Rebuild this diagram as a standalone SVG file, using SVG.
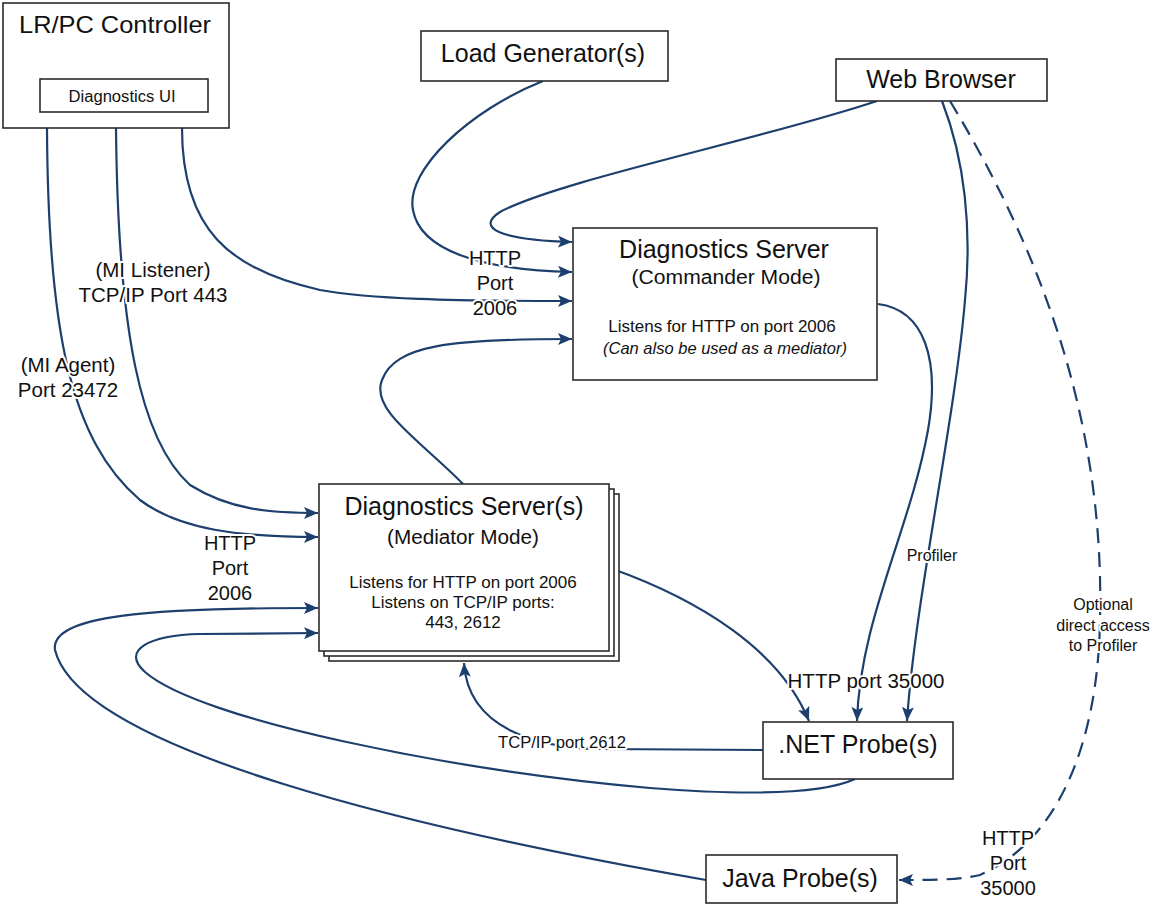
<svg xmlns="http://www.w3.org/2000/svg" width="1155" height="905" viewBox="0 0 1155 905">
<style>
  .box { fill: #ffffff; stroke: #2b2b2b; stroke-width: 1.6; }
  .t { font-family: "Liberation Sans", Arial, sans-serif; fill: #111111; text-anchor: middle; }
  .lbl { font-family: "Liberation Sans", Arial, sans-serif; fill: #111111; text-anchor: middle; stroke: #ffffff; stroke-width: 4; stroke-linejoin: round; paint-order: stroke; }
  .c { fill: none; stroke: #1d3f6e; stroke-width: 2.2; }
  .a { marker-end: url(#arr); }
  .d { stroke-dasharray: 15 9; }
</style>
<defs>
  <marker id="arr" markerUnits="userSpaceOnUse" markerWidth="14" markerHeight="12" viewBox="0 0 14 12" refX="14" refY="6" orient="auto">
    <path d="M0,0 L14,6 L0,12 L3,6 z" fill="#1d3f6e"/>
  </marker>
</defs>
<rect width="1155" height="905" fill="#ffffff"/>

<g id="connectors">
  <!-- Controller to Mediator -->
  <path class="c a" d="M47,128 C48,330 70,440 140,500 C180,530 240,537 318,537"/>
  <path class="c a" d="M116,128 C118,330 140,440 190,485 C230,510 270,513 318,513"/>
  <!-- Controller to Commander -->
  <path class="c a" d="M182,128 C182,230 230,270 320,290 C370,299 450,301 572,301"/>
  <!-- Load Generator to Commander -->
  <path class="c a" d="M543,81 C470,110 405,170 413,210 C420,250 480,270 572,272"/>
  <!-- Web Browser to Commander -->
  <path class="c a" d="M877,101 C760,140 560,180 500,212 C475,228 500,240 572,242"/>
  <!-- Mediator to Commander -->
  <path class="c a" d="M463,484 C420,440 370,410 382,380 C395,345 450,339 572,339"/>
  <!-- Web Browser to .NET (Profiler) -->
  <path class="c a" d="M942,101 C965,160 972,230 965,300 C955,420 915,600 907,721"/>
  <!-- Commander to .NET -->
  <path class="c a" d="M878,304 C925,310 940,360 928,430 C910,530 860,620 857,721"/>
  <!-- Mediator to .NET -->
  <path class="c a" d="M610,568 C700,600 780,650 809,721"/>
  <!-- Web Browser to Java (dashed) -->
  <path class="c a d" d="M950,101 C1040,250 1105,420 1100,620 C1098,740 1060,840 980,875 C960,880 930,880 899,880"/>
  <!-- .NET to Mediator bottom (TCP/IP 2612) -->
  <path class="c a" d="M763,750 L600,749 C540,748 468,730 464,663"/>
  <!-- .NET to Mediator left -->
  <path class="c a" d="M855,779 C820,795 740,795 650,788 C450,770 200,720 145,672 C120,650 150,635 200,634 L318,633"/>
  <!-- Java to Mediator left -->
  <path class="c a" d="M706,880 C420,830 80,750 55,650 C50,615 150,608 318,608"/>
</g>

<g id="labels">
  <text class="lbl" font-size="20.5" x="153" y="277">(MI Listener)</text>
  <text class="lbl" font-size="20.5" x="153" y="302">TCP/IP Port 443</text>
  <text class="lbl" font-size="20.5" x="68" y="372">(MI Agent)</text>
  <text class="lbl" font-size="20.5" x="68" y="397">Port 23472</text>
  <text class="lbl" font-size="20" x="495" y="265">HTTP</text>
  <text class="lbl" font-size="20" x="495" y="290">Port</text>
  <text class="lbl" font-size="20" x="495" y="315">2006</text>
  <text class="lbl" font-size="20" x="230" y="550">HTTP</text>
  <text class="lbl" font-size="20" x="230" y="575">Port</text>
  <text class="lbl" font-size="20" x="230" y="600">2006</text>
  <text class="lbl" font-size="16" x="932" y="561">Profiler</text>
  <text class="lbl" font-size="16" x="1103" y="610">Optional</text>
  <text class="lbl" font-size="16" x="1103" y="631">direct access</text>
  <text class="lbl" font-size="16" x="1103" y="651">to Profiler</text>
  <text class="lbl" font-size="20.5" x="866" y="688">HTTP port 35000</text>
  <text class="lbl" font-size="16" x="562" y="748" textLength="128" lengthAdjust="spacingAndGlyphs">TCP/IP port 2612</text>
  <text class="lbl" font-size="20" x="1008" y="845">HTTP</text>
  <text class="lbl" font-size="20" x="1008" y="870">Port</text>
  <text class="lbl" font-size="20" x="1008" y="895">35000</text>
</g>

<g id="controller">
  <rect class="box" x="3" y="3" width="226" height="125"/>
  <text class="t" font-size="24" x="115" y="33" textLength="192" lengthAdjust="spacingAndGlyphs">LR/PC Controller</text>
  <g id="diagnostics-ui">
    <rect class="box" x="40" y="79" width="168" height="33"/>
    <text class="t" font-size="16" x="122" y="102" textLength="107" lengthAdjust="spacingAndGlyphs">Diagnostics UI</text>
  </g>
</g>

<g id="load-generator">
  <rect class="box" x="421" y="31" width="247" height="50"/>
  <text class="t" font-size="25" x="543" y="62">Load Generator(s)</text>
</g>

<g id="web-browser">
  <rect class="box" x="836" y="59" width="211" height="42"/>
  <text class="t" font-size="25" x="941" y="88">Web Browser</text>
</g>

<g id="commander">
  <rect class="box" x="573" y="228" width="304" height="152"/>
  <text class="t" font-size="25" x="724" y="258">Diagnostics Server</text>
  <text class="t" font-size="20" x="726" y="284" textLength="189" lengthAdjust="spacingAndGlyphs">(Commander Mode)</text>
  <text class="t" font-size="17" x="722" y="332">Listens for HTTP on port 2006</text>
  <text class="t" font-size="16.5" x="725" y="354" font-style="italic">(Can also be used as a mediator)</text>
</g>

<g id="mediator">
  <rect class="box" x="329" y="494" width="290" height="167"/>
  <rect class="box" x="324" y="489" width="290" height="167"/>
  <rect class="box" x="319" y="484" width="290" height="167"/>
  <text class="t" font-size="25" x="464" y="515">Diagnostics Server(s)</text>
  <text class="t" font-size="20" x="463" y="544" textLength="152" lengthAdjust="spacingAndGlyphs">(Mediator Mode)</text>
  <text class="t" font-size="17" x="463" y="588">Listens for HTTP on port 2006</text>
  <text class="t" font-size="17" x="463" y="608">Listens on TCP/IP ports:</text>
  <text class="t" font-size="17" x="463" y="628">443, 2612</text>
</g>

<g id="net-probe">
  <rect class="box" x="763" y="722" width="190" height="57"/>
  <text class="t" font-size="25" x="858" y="753">.NET Probe(s)</text>
</g>

<g id="java-probe">
  <rect class="box" x="706" y="855" width="191" height="48"/>
  <text class="t" font-size="25" x="800" y="887">Java Probe(s)</text>
</g>
</svg>
